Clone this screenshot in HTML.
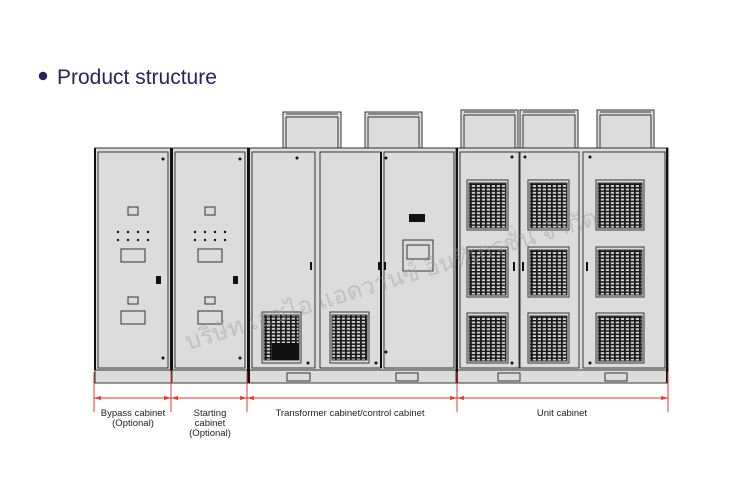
<!DOCTYPE html>
<html><head><meta charset="utf-8"><style>
html,body{margin:0;padding:0;background:#fff;}
svg{display:block}
</style></head><body>
<svg width="750" height="491" viewBox="0 0 750 491" xmlns="http://www.w3.org/2000/svg" font-family="Liberation Sans, sans-serif">
<defs>
<pattern id="gr" width="5" height="3.4" patternUnits="userSpaceOnUse">
<rect width="5" height="3.4" fill="#cfcfcf"/>
<rect x="0" y="0" width="1.8" height="3.4" fill="#1a1a1a"/>
<rect x="0" y="0" width="5" height="1.5" fill="#1a1a1a"/>
</pattern>
</defs>
<rect width="750" height="491" fill="#fff"/>
<circle cx="43" cy="76" r="4.2" fill="#24245e"/>
<text x="57" y="84" font-size="21" fill="#24245e">Product structure</text>

<g stroke="#333" stroke-width="1" fill="#dcdcdc">
<g><rect x="283" y="112" width="58" height="36"/><rect x="286" y="117" width="52" height="31"/><line x1="286" y1="114" x2="338" y2="114"/></g>
<g><rect x="365" y="112" width="57" height="36"/><rect x="368" y="117" width="51" height="31"/><line x1="368" y1="114" x2="419" y2="114"/></g>
<g><rect x="461" y="110" width="57" height="38"/><rect x="464" y="115" width="51" height="33"/><line x1="464" y1="112" x2="515" y2="112"/></g>
<g><rect x="520" y="110" width="58" height="38"/><rect x="523" y="115" width="52" height="33"/><line x1="523" y1="112" x2="575" y2="112"/></g>
<g><rect x="597" y="110" width="57" height="38"/><rect x="600" y="115" width="51" height="33"/><line x1="600" y1="112" x2="651" y2="112"/></g>

<rect x="95" y="148" width="76" height="222"/>
<rect x="172" y="148" width="76" height="222"/>
<rect x="249" y="148" width="207" height="222"/>
<rect x="457" y="148" width="211" height="222"/>
<rect x="95" y="370" width="76" height="13"/>
<rect x="172" y="370" width="76" height="13"/>
<rect x="249" y="370" width="207" height="13"/>
<rect x="457" y="370" width="211" height="13"/>
<rect x="98" y="152" width="70" height="216"/>
<rect x="175" y="152" width="70" height="216"/>
<rect x="252" y="152" width="63" height="216"/>
<rect x="320" y="152" width="61" height="216"/>
<rect x="384" y="152" width="70" height="216"/>
<rect x="460" y="152" width="59" height="216"/>
<rect x="520" y="152" width="59" height="216"/>
<rect x="583" y="152" width="82" height="216"/>
<rect x="287" y="373" width="23" height="8"/>
<rect x="396" y="373" width="22" height="8"/>
<rect x="498" y="373" width="22" height="8"/>
<rect x="605" y="373" width="22" height="8"/>
</g>
<g fill="#111">
<rect x="94" y="148" width="2" height="222"/>
<rect x="170" y="148" width="3" height="222"/>
<rect x="247" y="148" width="3" height="235"/>
<rect x="380" y="152" width="2" height="216"/>
<rect x="456" y="148" width="2" height="235"/>
<rect x="666" y="148" width="2" height="235"/>
<rect x="94" y="200" width="2" height="8"/><rect x="94" y="280" width="2" height="8"/>
<g>
<circle cx="118" cy="232" r="1.2"/><circle cx="128" cy="232" r="1.2"/><circle cx="138" cy="232" r="1.2"/><circle cx="148" cy="232" r="1.2"/>
<circle cx="118" cy="240" r="1.2"/><circle cx="128" cy="240" r="1.2"/><circle cx="138" cy="240" r="1.2"/><circle cx="148" cy="240" r="1.2"/>
<circle cx="163" cy="159" r="1.5"/><circle cx="163" cy="358" r="1.5"/>
<rect x="156" y="276" width="5" height="8"/>
</g>
<g transform="translate(77,0)">
<circle cx="118" cy="232" r="1.2"/><circle cx="128" cy="232" r="1.2"/><circle cx="138" cy="232" r="1.2"/><circle cx="148" cy="232" r="1.2"/>
<circle cx="118" cy="240" r="1.2"/><circle cx="128" cy="240" r="1.2"/><circle cx="138" cy="240" r="1.2"/><circle cx="148" cy="240" r="1.2"/>
<circle cx="163" cy="159" r="1.5"/><circle cx="163" cy="358" r="1.5"/>
<rect x="156" y="276" width="5" height="8"/>
</g>
<circle cx="297" cy="158" r="1.5"/><circle cx="308" cy="363" r="1.5"/><circle cx="376" cy="363" r="1.5"/><circle cx="386" cy="158" r="1.5"/><circle cx="386" cy="352" r="1.5"/>
<circle cx="512" cy="157" r="1.5"/><circle cx="525" cy="157" r="1.5"/><circle cx="512" cy="363" r="1.5"/><circle cx="590" cy="157" r="1.5"/><circle cx="590" cy="363" r="1.5"/>
<rect x="310" y="262" width="2" height="8"/><rect x="378" y="262" width="2" height="8"/><rect x="384" y="262" width="2" height="8"/>
<rect x="513" y="262" width="2" height="9"/><rect x="522" y="262" width="2" height="9"/><rect x="586" y="262" width="2" height="9"/>
<rect x="409" y="214" width="16" height="8"/>
</g>
<g fill="none" stroke="#333" stroke-width="1">
<rect x="128" y="207" width="10" height="8"/><rect x="121" y="249" width="24" height="13"/><rect x="128" y="297" width="10" height="7"/><rect x="121" y="311" width="24" height="13"/>
<rect x="205" y="207" width="10" height="8"/><rect x="198" y="249" width="24" height="13"/><rect x="205" y="297" width="10" height="7"/><rect x="198" y="311" width="24" height="13"/>
<rect x="403" y="240" width="30" height="31"/><rect x="407" y="245" width="22" height="14"/>
</g>
<g stroke="#333" stroke-width="1">
<rect x="262" y="312" width="39" height="51" fill="#ddd"/><rect x="264" y="315" width="35" height="45" fill="url(#gr)"/>
<rect x="272" y="343" width="27" height="17" fill="#111" stroke="none"/>
<rect x="330" y="312" width="39" height="51" fill="#ddd"/><rect x="332" y="315" width="35" height="45" fill="url(#gr)"/>
<g id="g1"><rect x="467" y="180" width="41" height="50" fill="#ddd"/><rect x="469" y="183" width="37" height="45" fill="url(#gr)"/></g>
<use href="#g1" y="67"/><use href="#g1" y="133"/>
<use href="#g1" x="61"/><use href="#g1" x="61" y="67"/><use href="#g1" x="61" y="133"/>
<g transform="translate(129,0)"><rect x="467" y="180" width="48" height="50" fill="#ddd"/><rect x="469" y="183" width="44" height="45" fill="url(#gr)"/></g>
<g transform="translate(129,67)"><rect x="467" y="180" width="48" height="50" fill="#ddd"/><rect x="469" y="183" width="44" height="45" fill="url(#gr)"/></g>
<g transform="translate(129,133)"><rect x="467" y="180" width="48" height="50" fill="#ddd"/><rect x="469" y="183" width="44" height="45" fill="url(#gr)"/></g>
</g>
<text x="188" y="350" font-size="24" fill="#999" opacity="0.4" transform="rotate(-17 188 350)" font-family="Liberation Sans, Noto Sans CJK SC, sans-serif">บริษัท เอชไอ แอดวานซ์ อินทิเกรชั่น จำกัด</text>
<g stroke="#e33" stroke-width="1">
<line x1="94" y1="398" x2="668" y2="398"/>
<line x1="94" y1="372" x2="94" y2="412"/>
<line x1="171" y1="372" x2="171" y2="412"/>
<line x1="247" y1="372" x2="247" y2="412"/>
<line x1="457" y1="372" x2="457" y2="412"/>
<line x1="668" y1="372" x2="668" y2="412"/>
</g>
<g fill="#e33">
<path d="M94 398l7-2v4z"/><path d="M171 398l-7-2v4z"/><path d="M171 398l7-2v4z"/><path d="M247 398l-7-2v4z"/><path d="M247 398l7-2v4z"/><path d="M457 398l-7-2v4z"/><path d="M457 398l7-2v4z"/><path d="M668 398l-7-2v4z"/>
</g>
<g font-size="9.5" fill="#222" text-anchor="middle">
<text x="133" y="416">Bypass cabinet</text><text x="133" y="426">(Optional)</text>
<text x="210" y="416">Starting</text><text x="210" y="426">cabinet</text><text x="210" y="436">(Optional)</text>
<text x="350" y="416">Transformer cabinet/control cabinet</text>
<text x="562" y="416">Unit cabinet</text>
</g>
</svg>
</body></html>
